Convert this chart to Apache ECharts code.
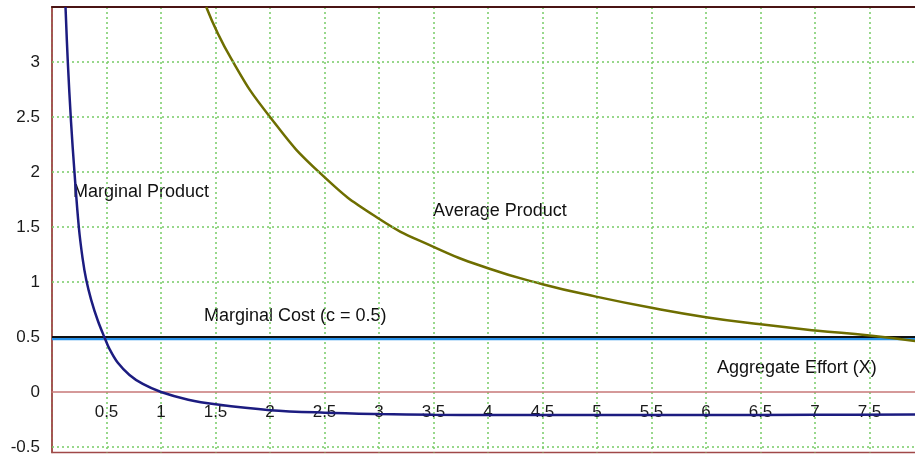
<!DOCTYPE html>
<html>
<head>
<meta charset="utf-8">
<script src="https://cdn.jsdelivr.net/npm/echarts@6/dist/echarts.min.js"></script>
<style>
html,body{margin:0;padding:0;background:#fff;overflow:hidden;}
#chart{width:915px;height:456px;}
</style>
</head>
<body>
<div id="chart"></div>
<script>
// ---- data ----
const xMin = 0;
const xMax = 7.945;
const yMin = -0.55;
const yMax = 3.5;
const yTickValues = [-0.5, 0, 0.5, 1, 1.5, 2, 2.5, 3];

const mpX = [0.124, 0.145, 0.175, 0.206, 0.246, 0.28, 0.314, 0.36, 0.42, 0.48, 0.528, 0.604, 0.711, 0.833, 1.0, 1.25, 1.5, 2.0, 2.5, 3.0, 3.5, 4.0, 5.0, 6.0, 7.0, 7.945];
const mpY = [3.5, 3.0, 2.45, 2.0, 1.5, 1.22, 1.02, 0.836, 0.65, 0.5, 0.39, 0.265, 0.155, 0.073, 0.0, -0.07, -0.112, -0.165, -0.188, -0.2, -0.207, -0.21, -0.21, -0.21, -0.207, -0.205];

const apX = [1.415, 1.644, 2.0, 2.47, 3.0, 3.5, 4.0, 4.5, 5.0, 5.5, 6.0, 6.5, 7.0, 7.5, 7.945];
const apY = [3.5, 3.03, 2.5, 1.98, 1.575, 1.32, 1.125, 0.98, 0.865, 0.765, 0.68, 0.615, 0.56, 0.513, 0.46];

const mcValue = 0.5;

const labelMP = 'Marginal Product';
const labelAP = 'Average Product';
const labelMC = 'Marginal Cost (c = 0.5)';
const labelX = 'Aggregate Effort (X)';

// ---- chart ----
const GRID_H = 445.5;
const chart = echarts.init(document.getElementById('chart'));
const FONT = '"Liberation Sans", Arial, sans-serif';
const gridGreen = '#77cc66';
const zeroOffset = -((0 - yMin) / (yMax - yMin)) * GRID_H;

const option = {
  animation: false,
  backgroundColor: '#ffffff',
  grid: {
    left: 52, top: 7, width: 866, height: GRID_H,
    outerBoundsMode: 'none', containLabel: false,
    show: true, borderColor: '#a04848', borderWidth: 1.5, backgroundColor: 'transparent'
  },
  xAxis: [{
    type: 'value', min: xMin, max: xMax, interval: 0.5,
    position: 'bottom', offset: zeroOffset,
    axisLine: { show: true, onZero: false, lineStyle: { color: '#c87878', width: 1.5 } },
    axisTick: { show: false },
    axisLabel: {
      showMinLabel: false, showMaxLabel: false, margin: 12,
      color: '#1a1a1a', fontSize: 17, fontFamily: FONT,
      formatter: v => (Math.abs(v - Math.round(v*2)/2) < 1e-6 ? String(v) : '')
    },
    splitLine: { show: true, lineStyle: { color: gridGreen, type: [2, 3], width: 1.5 } }
  }, {
    type: 'value', min: xMin, max: xMax, position: 'top',
    axisLine: { show: true, onZero: false, lineStyle: { color: '#4a1414', width: 2 } },
    axisTick: { show: false }, axisLabel: { show: false }, splitLine: { show: false }
  }],
  yAxis: {
    type: 'value', min: yMin, max: yMax,
    axisLine: { show: true, onZero: false, lineStyle: { color: '#a04848', width: 1.5 } },
    axisTick: { show: false },
    splitLine: { show: false },
    axisLabel: {
      customValues: yTickValues, margin: 12,
      color: '#1a1a1a', fontSize: 17, fontFamily: FONT
    }
  },
  series: [
    {
      type: 'line', data: [], silent: true,
      markLine: {
        silent: true, symbol: 'none', animation: false,
        label: { show: false },
        lineStyle: { color: gridGreen, type: [2, 3], width: 1.5 },
        data: yTickValues.filter(v => v !== 0 && v !== mcValue).map(v => ({ yAxis: v }))
      },
      z: 1
    },
    {
      name: labelMC, type: 'line', showSymbol: false, symbol: 'none',
      data: [[xMin, mcValue], [xMax, mcValue]],
      lineStyle: { color: '#111111', width: 2.2, shadowColor: '#2590e8', shadowOffsetY: 2.2, shadowBlur: 0 },
      z: 3
    },
    {
      name: labelAP, type: 'line', showSymbol: false, symbol: 'none',
      smooth: 0.5,
      data: apX.map((x, i) => [x, apY[i]]),
      lineStyle: { color: '#6e6e00', width: 2.5 },
      z: 4
    },
    {
      name: labelMP, type: 'line', showSymbol: false, symbol: 'none',
      smooth: 0.35,
      data: mpX.map((x, i) => [x, mpY[i]]),
      lineStyle: { color: '#1c1c80', width: 2.5 },
      z: 5
    }
  ],
  graphic: [
    { type: 'text', left: 73, top: 183, style: { text: labelMP, fill: '#111', font: '18px ' + FONT } },
    { type: 'text', left: 433, top: 202, style: { text: labelAP, fill: '#111', font: '18px ' + FONT } },
    { type: 'text', left: 204, top: 307, style: { text: labelMC, fill: '#111', font: '18px ' + FONT } },
    { type: 'text', left: 717, top: 359, style: { text: labelX, fill: '#111', font: '18px ' + FONT } }
  ]
};
chart.setOption(option);
</script>
</body>
</html>
